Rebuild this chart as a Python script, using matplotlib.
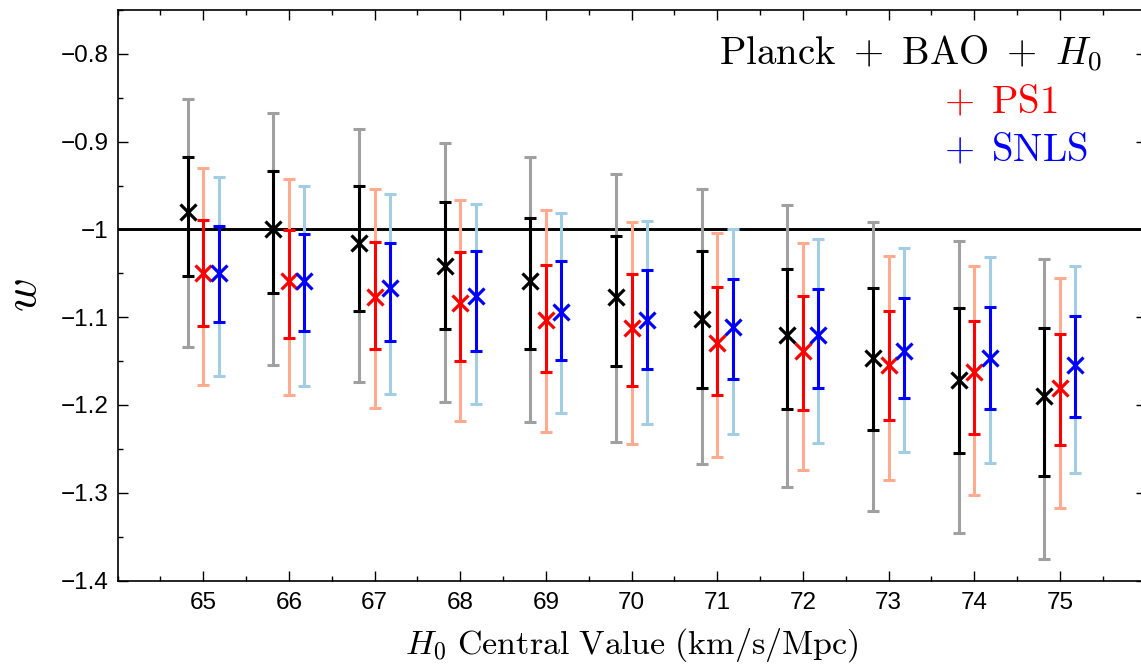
import numpy as np
import matplotlib
matplotlib.use("Agg")
import matplotlib.pyplot as plt
from matplotlib.ticker import MultipleLocator, FixedLocator

plt.rcParams['mathtext.fontset'] = 'cm'
plt.rcParams['font.family'] = ['Liberation Sans', 'DejaVu Sans']

# ---------------- data ----------------
h0_values = [65, 66, 67, 68, 69, 70, 71, 72, 73, 74, 75]
tick_labels = ['65', '66', '67', '68', '69', '70', '71', '72', '73', '74', '75']

# Planck + BAO + H0
base_w = [-0.980, -0.999, -1.016, -1.042, -1.059, -1.077, -1.102, -1.120, -1.147, -1.172, -1.190]
base_1s_hi = [-0.918, -0.933, -0.951, -0.969, -0.987, -1.007, -1.025, -1.045, -1.067, -1.089, -1.112]
base_1s_lo = [-1.053, -1.073, -1.093, -1.114, -1.136, -1.156, -1.181, -1.205, -1.229, -1.255, -1.281]
base_2s_hi = [-0.851, -0.867, -0.886, -0.901, -0.918, -0.937, -0.954, -0.972, -0.991, -1.013, -1.034]
base_2s_lo = [-1.134, -1.155, -1.174, -1.197, -1.219, -1.242, -1.267, -1.294, -1.321, -1.346, -1.375]

# + PS1
ps1_w = [-1.050, -1.059, -1.077, -1.084, -1.103, -1.112, -1.129, -1.138, -1.155, -1.163, -1.181]
ps1_1s_hi = [-0.989, -1.001, -1.014, -1.026, -1.040, -1.051, -1.066, -1.076, -1.093, -1.104, -1.119]
ps1_1s_lo = [-1.110, -1.124, -1.136, -1.150, -1.163, -1.178, -1.189, -1.206, -1.217, -1.233, -1.246]
ps1_2s_hi = [-0.930, -0.942, -0.954, -0.966, -0.978, -0.991, -1.004, -1.016, -1.030, -1.042, -1.055]
ps1_2s_lo = [-1.177, -1.189, -1.204, -1.218, -1.231, -1.245, -1.259, -1.274, -1.286, -1.303, -1.317]

# + SNLS
snls_w = [-1.050, -1.059, -1.067, -1.076, -1.094, -1.103, -1.111, -1.120, -1.138, -1.146, -1.155]
snls_1s_hi = [-0.996, -1.005, -1.015, -1.025, -1.036, -1.046, -1.056, -1.068, -1.078, -1.088, -1.099]
snls_1s_lo = [-1.105, -1.116, -1.127, -1.138, -1.149, -1.159, -1.170, -1.181, -1.192, -1.205, -1.214]
snls_2s_hi = [-0.940, -0.950, -0.960, -0.971, -0.981, -0.990, -0.999, -1.011, -1.021, -1.031, -1.042]
snls_2s_lo = [-1.167, -1.178, -1.188, -1.199, -1.209, -1.222, -1.233, -1.243, -1.254, -1.266, -1.277]

# ---------------- figure ----------------
W, H = 1141, 667
fig = plt.figure(figsize=(W / 100, H / 100), dpi=100)
left_px, right_px, top_px, bottom_px = 117.5, 1145.5, 10.0, 580.5
ax = fig.add_axes([left_px / W, 1 - bottom_px / H,
                   (right_px - left_px) / W, (bottom_px - top_px) / H])

x = np.array(h0_values, dtype=float)

series = [
    (base_w, base_1s_lo, base_1s_hi, base_2s_lo, base_2s_hi, -0.18, 'black', '#a0a0a0'),
    (ps1_w, ps1_1s_lo, ps1_1s_hi, ps1_2s_lo, ps1_2s_hi, 0.0, '#ff0000', '#ffab90'),
    (snls_w, snls_1s_lo, snls_1s_hi, snls_2s_lo, snls_2s_hi, 0.18, '#0000ff', '#a3cde3'),
]

ax.axhline(-1.0, color='black', lw=2.1, zorder=1)

for c, lo1, hi1, lo2, hi2, off, dark, light in series:
    c = np.array(c); lo1 = np.array(lo1); hi1 = np.array(hi1)
    lo2 = np.array(lo2); hi2 = np.array(hi2)
    xs = x + off
    ax.errorbar(xs, c, yerr=[c - lo2, hi2 - c], fmt='none', ecolor=light,
                elinewidth=2.2, capsize=4.2, capthick=2.2, zorder=2)
    ax.errorbar(xs, c, yerr=[c - lo1, hi1 - c], fmt='none', ecolor=dark,
                elinewidth=2.2, capsize=4.2, capthick=2.2, zorder=3)
    ax.plot(xs, c, linestyle='none', marker='x', markersize=12,
            markeredgewidth=2.3, color=dark, zorder=4)

ax.set_xlim(64, 76)
ax.set_ylim(-1.4, -0.75)

ax.xaxis.set_major_locator(FixedLocator(h0_values))
ax.set_xticklabels(tick_labels)
ax.xaxis.set_minor_locator(MultipleLocator(0.5))
ax.yaxis.set_major_locator(MultipleLocator(0.1))
ax.yaxis.set_minor_locator(MultipleLocator(0.05))

def ylab(v, pos):
    s = '%g' % round(v, 2)
    return s.replace('-', '\u2212')
ax.yaxis.set_major_formatter(plt.FuncFormatter(ylab))

ax.tick_params(which='both', direction='in', top=True, right=True, width=1.0,
               labelsize=17.5, color='black')
ax.tick_params(which='major', length=7)
ax.tick_params(which='minor', length=3.6)
ax.tick_params(axis='x', which='major', pad=8)
ax.tick_params(axis='y', which='major', pad=6.5)

for sp in ax.spines.values():
    sp.set_linewidth(1.2)

ax.set_xlabel(r'$H_0\ \mathrm{Central\ Value\ (km/s/Mpc)}$', fontsize=24.5, labelpad=9)
ax.set_ylabel(r'$w$', fontsize=33)
ax.yaxis.set_label_coords(-0.07, 0.5)

# legend-like text
fs = 28
fig.text(1102 / W, 1 - 65 / H, r'$\mathrm{Planck\ +\ BAO\ +\ }H_0$', ha='right',
         va='baseline', fontsize=fs, color='black')
fig.text(944 / W, 1 - 113.3 / H, r'$+\ \,\mathrm{PS1}$', ha='left',
         va='baseline', fontsize=fs, color='#ff0000')
fig.text(944 / W, 1 - 161.7 / H, r'$+\ \,\mathrm{SNLS}$', ha='left',
         va='baseline', fontsize=fs, color='#0000ff')

fig.savefig('out.png', dpi=100)
